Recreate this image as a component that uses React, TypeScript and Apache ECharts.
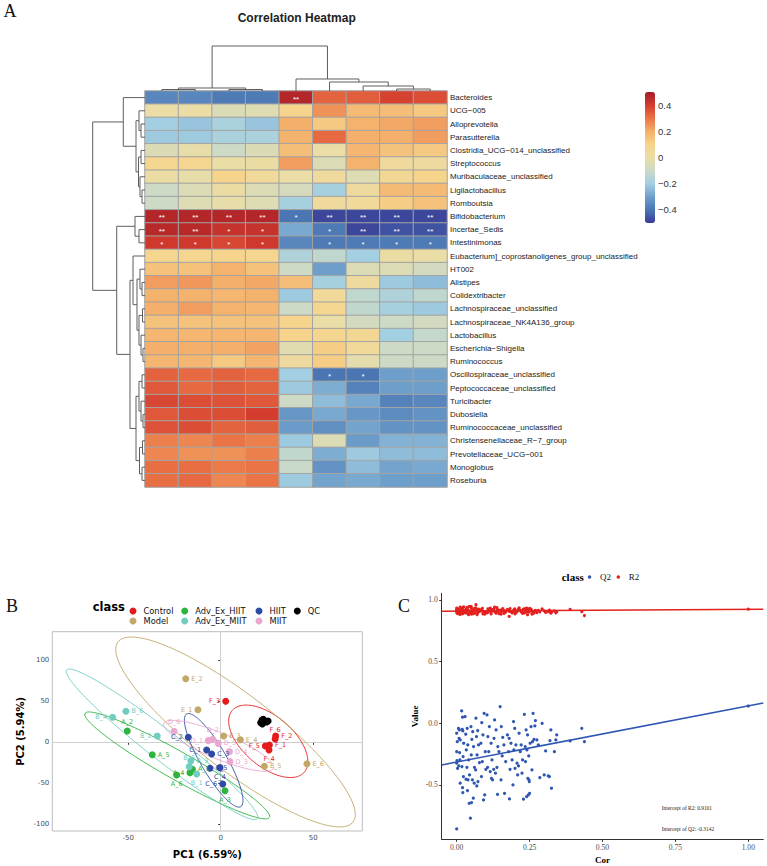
import React, { useEffect, useRef } from 'react';
import * as echarts from 'echarts';

// ---------------- Panel A: correlation heatmap ----------------
const colNames = ['V1', 'V2', 'V3', 'V4', 'V5', 'V6', 'V7', 'V8', 'V9'];
const rowNames = [
  'Bacteroides', 'UCG\u2212005', 'Alloprevotella', 'Parasutterella', 'Clostridia_UCG\u2212014_unclassified',
  'Streptococcus', 'Muribaculaceae_unclassified', 'Ligilactobacillus', 'Romboutsia', 'Bifidobacterium',
  'Incertae_Sedis', 'Intestinimonas', 'Eubacterium]_coprostanoligenes_group_unclassified', 'HT002', 'Alistipes',
  'Colidextribacter', 'Lachnospiraceae_unclassified', 'Lachnospiraceae_NK4A136_group', 'Lactobacillus', 'Escherichia\u2212Shigella',
  'Ruminococcus', 'Oscillospiraceae_unclassified', 'Peptococcaceae_unclassified', 'Turicibacter', 'Dubosiella',
  'Ruminococcaceae_unclassified', 'Christensenellaceae_R\u22127_group', 'Prevotellaceae_UCG\u2212001', 'Monoglobus', 'Roseburia',
];
const corValues = [
  [-0.36, -0.36, -0.39, -0.39, 0.47, 0.33, 0.34, 0.39, 0.37],
  [0.0, 0.0, -0.05, -0.04, 0.1, 0.25, 0.17, 0.16, 0.13],
  [-0.2, -0.22, -0.18, -0.22, 0.2, 0.13, 0.19, 0.21, 0.23],
  [-0.21, -0.21, -0.18, -0.18, 0.19, 0.32, 0.2, 0.2, 0.23],
  [-0.05, -0.01, -0.1, -0.05, 0.16, 0.0, 0.18, 0.15, 0.13],
  [0.08, 0.08, 0.0, 0.01, 0.23, -0.05, 0.19, 0.04, 0.03],
  [0.01, -0.01, 0.1, 0.05, 0.0, 0.04, -0.04, 0.07, 0.1],
  [-0.1, -0.05, 0.01, -0.05, -0.07, -0.19, 0.03, 0.17, 0.17],
  [-0.1, -0.04, -0.01, -0.04, -0.19, 0.04, 0.05, 0.12, 0.15],
  [0.47, 0.47, 0.47, 0.47, -0.4, -0.48, -0.48, -0.48, -0.48],
  [0.46, 0.46, 0.43, 0.43, -0.28, -0.39, -0.48, -0.46, -0.46],
  [0.41, 0.41, 0.38, 0.41, -0.36, -0.39, -0.39, -0.39, -0.39],
  [0.08, 0.08, 0.1, 0.08, -0.17, -0.13, -0.2, 0.01, 0.0],
  [0.15, 0.15, 0.19, 0.15, -0.1, -0.3, -0.05, -0.05, -0.08],
  [0.23, 0.24, 0.2, 0.21, 0.16, -0.19, 0.03, -0.21, -0.24],
  [0.19, 0.19, 0.18, 0.19, -0.21, 0.05, -0.13, -0.17, -0.13],
  [0.2, 0.23, 0.19, 0.18, -0.1, 0.08, -0.13, -0.19, -0.21],
  [0.15, 0.15, 0.15, 0.15, 0.1, 0.0, -0.08, -0.1, -0.08],
  [0.18, 0.18, 0.18, 0.18, 0.1, 0.08, 0.07, -0.2, -0.12],
  [0.2, 0.2, 0.2, 0.22, -0.03, 0.12, 0.05, -0.1, -0.1],
  [0.18, 0.18, 0.13, 0.18, 0.03, 0.12, -0.02, -0.1, -0.1],
  [0.33, 0.32, 0.33, 0.32, -0.2, -0.4, -0.4, -0.3, -0.3],
  [0.35, 0.32, 0.34, 0.33, -0.21, -0.27, -0.37, -0.3, -0.3],
  [0.38, 0.37, 0.36, 0.35, -0.1, -0.24, -0.28, -0.37, -0.36],
  [0.35, 0.37, 0.37, 0.4, -0.32, -0.28, -0.32, -0.35, -0.33],
  [0.36, 0.37, 0.33, 0.34, -0.31, -0.34, -0.29, -0.33, -0.33],
  [0.28, 0.27, 0.3, 0.28, -0.21, -0.05, -0.31, -0.26, -0.26],
  [0.27, 0.25, 0.25, 0.28, -0.13, -0.27, -0.21, -0.24, -0.24],
  [0.31, 0.31, 0.29, 0.3, -0.11, -0.33, -0.24, -0.29, -0.28],
  [0.31, 0.32, 0.27, 0.3, -0.21, -0.29, -0.28, -0.3, -0.3],
];
// [row, col, mark]
const sigCells = [
  [0, 4, '**'],
  [9, 0, '**'], [9, 1, '**'], [9, 2, '**'], [9, 3, '**'], [9, 4, '*'], [9, 5, '**'], [9, 6, '**'], [9, 7, '**'], [9, 8, '**'],
  [10, 0, '**'], [10, 1, '**'], [10, 2, '*'], [10, 3, '*'], [10, 5, '*'], [10, 6, '**'], [10, 7, '**'], [10, 8, '**'],
  [11, 0, '*'], [11, 1, '*'], [11, 2, '*'], [11, 3, '*'], [11, 5, '*'], [11, 6, '*'], [11, 7, '*'], [11, 8, '*'],
  [21, 5, '*'], [21, 6, '*'],
];
const colorTicks = [-0.4, -0.2, 0, 0.2, 0.4];
const heatPalette = ['#383B96', '#4A76B4', '#6E9FCB', '#A3CFE2', '#CCDAC6', '#EADDA6', '#F6D48C', '#F4AF6A', '#EA7446', '#D43C2E', '#A51C28'];

// dendrograms: [childA, childB, height]; negative = leaf -(index+1), positive = merge number (1-based)
const rowMerges = [
  [-3, -4, 0.076], [-2, 1, 0.115], [-5, -6, 0.076], [-8, -9, 0.057], [-7, 4, 0.096],
  [3, 5, 0.124], [2, 6, 0.172], [-1, 7, 0.415], [-11, -12, 0.115], [-10, 9, 0.191],
  [-15, -16, 0.057], [-14, 11, 0.096], [-17, -18, 0.048], [-20, -21, 0.038], [-19, 14, 0.076],
  [13, 15, 0.115], [12, 16, 0.153], [-13, 17, 0.229], [-22, -23, 0.057], [-25, -26, 0.038],
  [-24, 20, 0.076], [19, 21, 0.115], [-27, -28, 0.048], [-29, -30, 0.057], [23, 24, 0.105],
  [22, 25, 0.172], [18, 26, 0.287], [10, 27, 0.541], [8, 28, 1.0],
];
const colMerges = [
  [-1, -2, 0.033], [-3, -4, 0.033], [1, 2, 0.067], [-8, -9, 0.044],
  [-7, 4, 0.111], [-6, 5, 0.2], [-5, 6, 0.267], [3, 7, 1.0],
];

// ---------------- Panel B: PCA ----------------
const pcaClasses = ['Control', 'Model', 'Adv_Ex_HIIT', 'Adv_Ex_MIIT', 'HIIT', 'MIIT', 'QC'];
const pcaColors = ['#E41A1C', '#C2A868', '#2DB43C', '#72CDBF', '#3049A3', '#EBA7D0', '#000000'];
const pcaControl = [[2.7, 50.0, 'F_3'], [29.7, 7.7, 'F_2'], [29.4, 4.0, 'F_6'], [26.3, -3.3, 'F_1'], [24.1, -4.5, 'F_5'], [26.1, -9.4, 'F_4']];
const pcaModel = [[-18.9, 77.6, 'E_2'], [-12.3, 39.8, 'E_1'], [1.6, 7.7, 'E_3'], [10.6, 3.2, 'E_4'], [23.6, -29.3, 'E_5'], [46.6, -26.1, 'E_6']];
const pcaAdvHIIT = [[-50.5, 13.8, 'A_2'], [-37.0, -15.1, 'A_5'], [-23.8, -39.9, 'A_6'], [-16.6, -37.0, 'A_4'], [-15.3, -33.0, 'A_1'], [2.3, -59.0, 'A_3']];
const pcaAdvMIIT = [[-58.4, 30.5, 'B_4'], [-51.2, 37.8, 'B_6'], [-34.3, 7.7, 'B_2'], [-16.1, -22.4, 'B_3'], [-17.0, -29.7, 'B_5'], [-13.0, -38.7, 'B_1']];
const pcaHIIT = [[-17.5, 6.1, 'C_2'], [-7.6, -9.4, 'C_1'], [-4.9, -14.3, 'C_3'], [-5.8, -31.7, 'C_5'], [-0.4, -30.9, 'C_4'], [1.1, -50.9, 'C_6']];
const pcaMIIT = [[-25.2, 13.4, 'D_6'], [-6.7, 2.0, 'D_1'], [-4.3, 3.6, 'D_2'], [-1.3, -1.3, 'D_5'], [4.7, -11.4, 'D_4'], [5.0, -23.6, 'D_3']];
const pcaQC = [[21.6, 23.9, ''], [22.3, 27.2, ''], [23.0, 28.0, ''], [22.5, 22.3, ''], [25.6, 26.0, ''], [24.8, 24.8, '']];
const pcaData = [pcaControl, pcaModel, pcaAdvHIIT, pcaAdvMIIT, pcaHIIT, pcaMIIT, pcaQC];
// ellipse: [cx, cy, ax, ay, bx, by] (centre and two conjugate semi-axes, data units)
const ellControl = [25.7, 1.2, 19.5, -37.6, 8.8, 23.2];
const ellModel = [8.0, 12.6, 63.5, -109.8, 12.5, 36.8];
const ellAdvHIIT = [-23.5, -28.2, 49.8, -63.5, 3.7, 14.9];
const ellAdvMIIT = [-31.7, -2.5, 51.5, -90.7, 5.0, 14.4];
const ellHIIT = [-3.8, -22.0, 14.6, -56.5, 6.1, 8.0];
const ellMIIT = [-1.1, -4.3, 29.6, -27.4, 2.7, 14.6];
const pcaEllipses = [ellControl, ellModel, ellAdvHIIT, ellAdvMIIT, ellHIIT, ellMIIT];
const pcaXTicks = [-50, 0, 50];
const pcaYTicks = [-100, -50, 0, 50, 100];
const labelSide: Record<string, string> = {
  F_3: 'left', F_2: 'right', F_6: 'top', F_1: 'right', F_5: 'left', F_4: 'bottom',
  E_2: 'right', E_1: 'left', E_3: 'right', E_4: 'right', E_5: 'right', E_6: 'right',
  A_2: 'top', A_5: 'right', A_6: 'bottom', A_4: 'left', A_1: 'right', A_3: 'bottom',
  B_4: 'left', B_6: 'right', B_2: 'left', B_3: 'right', B_5: 'top', B_1: 'bottom',
  C_2: 'left', C_1: 'left', C_3: 'right', C_5: 'right', C_4: 'bottom', C_6: 'left',
  D_6: 'top', D_1: 'left', D_2: 'top', D_5: 'right', D_4: 'right', D_3: 'right',
};

// ---------------- Panel C: permutation test ----------------
const permCor = [
  0, 0.002, 0, 0.001, 0, 0.003, 0,
  0.006, 0.009, 0.008, 0.012, 0.01, 0.011, 0.007, 0.012,
  0.017, 0.02, 0.019, 0.021, 0.024, 0.022, 0.018, 0.023, 0.02, 0.021,
  0.029, 0.036, 0.031, 0.038, 0.033, 0.041, 0.035, 0.044, 0.032, 0.039, 0.037, 0.043, 0.047,
  0.049, 0.055, 0.052, 0.058, 0.05, 0.061, 0.054, 0.06, 0.057, 0.051,
  0.066, 0.072, 0.068, 0.075, 0.07, 0.078, 0.065, 0.073, 0.069,
  0.094, 0.086, 0.09, 0.083, 0.098, 0.088, 0.1, 0.085, 0.096, 0.092,
  0.104, 0.112, 0.107, 0.118, 0.11, 0.121, 0.106, 0.115, 0.119, 0.123,
  0.149, 0.13, 0.135, 0.128, 0.141, 0.145, 0.138, 0.127, 0.133, 0.14,
  0.153, 0.158, 0.162, 0.156, 0.168, 0.152, 0.164,
  0.174, 0.18, 0.186, 0.178, 0.19, 0.183, 0.181,
  0.195, 0.199, 0.203, 0.196, 0.207, 0.2, 0.209, 0.193,
  0.214, 0.221, 0.218, 0.226, 0.212, 0.224, 0.229,
  0.232, 0.238, 0.243, 0.235, 0.241, 0.247, 0.236, 0.244, 0.248, 0.24,
  0.262, 0.27, 0.255, 0.265, 0.26, 0.252, 0.258, 0.249, 0.25, 0.246,
  0.268, 0.275, 0.28,
  0.293, 0.285,
  0.305, 0.3, 0.314,
  0.323, 0.32, 0.318, 0.325,
  0.343, 0.34, 0.335,
  0.389, 0.429, 0.438, 1.0,
];
const permQ2 = [
  -0.081, -0.149, -0.23, -0.303, -0.324, -0.365, -0.857,
  -0.041, -0.054, -0.122, -0.135, -0.238, -0.297, -0.346, -0.486,
  0.1, 0.049, -0.049, -0.062, -0.162, -0.27, -0.351, -0.432, -0.522, -0.562,
  0.054, -0.041, -0.089, -0.176, -0.216, -0.297, -0.357, -0.419, -0.454, -0.459, -0.546, -0.649, -0.77,
  -0.027, -0.068, -0.13, -0.189, -0.257, -0.357, -0.459, -0.486, -0.608, -0.643,
  0.041, -0.059, -0.108, -0.176, -0.257, -0.319, -0.378, -0.473, -0.508,
  0.081, 0.005, -0.095, -0.162, -0.23, -0.311, -0.373, -0.432, -0.581, -0.622,
  0.068, -0.027, -0.108, -0.162, -0.23, -0.297, -0.357, -0.392, -0.446, -0.459,
  0.135, 0.027, -0.054, -0.122, -0.189, -0.23, -0.357, -0.373, -0.405, -0.576,
  -0.027, -0.114, -0.176, -0.265, -0.311, -0.459, -0.568,
  -0.095, -0.122, -0.162, -0.23, -0.297, -0.373, -0.614,
  0.014, -0.041, -0.176, -0.216, -0.324, -0.365, -0.419, -0.5,
  -0.081, -0.176, -0.23, -0.297, -0.346, -0.405, -0.616,
  0.073, -0.054, -0.095, -0.189, -0.216, -0.265, -0.311, -0.446, -0.459, -0.595,
  0.081, 0.022, -0.027, -0.13, -0.149, -0.162, -0.378, -0.473, -0.568, -0.581,
  -0.022, -0.135, -0.176,
  0.0, -0.441,
  -0.224, -0.419, -0.427,
  -0.054, -0.141, -0.432, -0.527,
  -0.095, -0.135, -0.23,
  -0.143, -0.041, -0.149, 0.14,
];
const permR2 = [
  0.905, 0.912, 0.921, 0.893, 0.934, 0.898, 0.915,
  0.889, 0.927, 0.902, 0.941, 0.914, 0.884, 0.922, 0.897,
  0.931, 0.908, 0.887, 0.918, 0.944, 0.901, 0.925, 0.893, 0.912, 0.936,
  0.916, 0.94, 0.895, 0.909, 0.928, 0.882, 0.919, 0.947, 0.903, 0.887, 0.924, 0.911, 0.898,
  0.938, 0.906, 0.921, 0.889, 0.945, 0.913, 0.897, 0.93, 0.904, 0.885,
  0.962, 0.917, 0.893, 0.926, 0.881, 0.908, 0.935, 0.899, 0.914,
  0.903, 0.924, 0.888, 0.911, 0.897, 0.932, 0.906, 0.919, 0.886, 0.901,
  0.895, 0.913, 0.928, 0.887, 0.908, 0.921, 0.899, 0.934, 0.905, 0.917,
  0.918, 0.941, 0.894, 0.926, 0.905, 0.889, 0.937, 0.912, 0.899, 0.922,
  0.904, 0.929, 0.891, 0.916, 0.902, 0.885, 0.913,
  0.923, 0.866, 0.905, 0.914, 0.896, 0.93, 0.908,
  0.911, 0.927, 0.898, 0.919, 0.906, 0.888, 0.915, 0.901,
  0.936, 0.903, 0.917, 0.892, 0.924, 0.909, 0.926,
  0.895, 0.918, 0.88, 0.929, 0.907, 0.914, 0.899, 0.921, 0.903, 0.933,
  0.902, 0.916, 0.925, 0.894, 0.908, 0.912, 0.886, 0.92, 0.931, 0.905,
  0.909, 0.897, 0.915,
  0.928, 0.904,
  0.899, 0.912, 0.906,
  0.893, 0.907, 0.918, 0.901,
  0.905, 0.896, 0.911,
  0.924, 0.905, 0.873, 0.925,
];
const r2Intercept = 0.9101;
const q2Intercept = -0.3142;
const r2Slope = 0.0145;
const q2Slope = 0.455;
const permXTicks = [0, 0.25, 0.5, 0.75, 1.0];
const permYTicks = [-0.5, 0, 0.5, 1.0];

// ---------------- helpers ----------------
function dendroSegments(merges: number[][]) {
  const pos: number[] = [];
  const hgt: number[] = [];
  const segs: number[][] = [];
  const get = (id: number) => (id < 0 ? [-id - 1 + 0.5, 0] : [pos[id - 1], hgt[id - 1]]);
  merges.forEach(([a, b, h], k) => {
    const [pa, ha] = get(a);
    const [pb, hb] = get(b);
    pos[k] = (pa + pb) / 2;
    hgt[k] = h;
    segs.push([pa, ha, pb, hb, h]);
  });
  return segs;
}

function ellipsePoints(p: number[]) {
  const [cx, cy, ax, ay, bx, by] = p;
  const pts: number[][] = [];
  for (let i = 0; i <= 160; i++) {
    const t = (i / 160) * Math.PI * 2;
    pts.push([cx + ax * Math.cos(t) + bx * Math.sin(t), cy + ay * Math.cos(t) + by * Math.sin(t)]);
  }
  return pts;
}

const SANS = 'Liberation Sans';
const DEJ = 'DejaVu Sans';
const SERIF = 'Liberation Serif';

function buildOption() {
  const sigMap: Record<string, string> = {};
  sigCells.forEach(([r, c, m]) => { sigMap[`${r}-${c}`] = m as string; });
  const heatData: any[] = [];
  corValues.forEach((row, r) => row.forEach((v, c) => heatData.push([c, r, v])));

  const rowSegs = dendroSegments(rowMerges);
  const colSegs = dendroSegments(colMerges);

  const pcaX = { min: -91, max: 76.5 };
  const pcaY = { min: -108.2, max: 134.9 };
  const permX = { min: -0.0514, max: 1.0514 };
  const permY = { min: -0.941, max: 1.054 };

  const hiddenAxis = (gi: number, extra: any = {}) => ({
    gridIndex: gi, show: false, ...extra,
  });

  const series: any[] = [];

  series.push({
    type: 'heatmap', xAxisIndex: 0, yAxisIndex: 0, data: heatData,
    itemStyle: { borderColor: '#A3A3A3', borderWidth: 1 },
    label: {
      show: true, color: '#ffffff', fontSize: 8, fontFamily: SANS, offset: [0, 1.5],
      formatter: (p: any) => sigMap[`${p.data[1]}-${p.data[0]}`] || '',
    },
    emphasis: { disabled: true }, silent: true,
  });

  series.push({
    type: 'custom', xAxisIndex: 1, yAxisIndex: 1, data: colSegs, silent: true, clip: false,
    renderItem: (params: any, api: any) => {
      const pa = api.value(0), ha = api.value(1), pb = api.value(2), hb = api.value(3), h = api.value(4);
      const pts = [api.coord([pa, ha]), api.coord([pa, h]), api.coord([pb, h]), api.coord([pb, hb])];
      return { type: 'polyline', shape: { points: pts }, style: { stroke: '#5E5E5E', lineWidth: 1, fill: null } };
    },
  });

  series.push({
    type: 'custom', xAxisIndex: 2, yAxisIndex: 2, data: rowSegs, silent: true, clip: false,
    renderItem: (params: any, api: any) => {
      const pa = api.value(0), ha = api.value(1), pb = api.value(2), hb = api.value(3), h = api.value(4);
      const pts = [api.coord([ha, pa]), api.coord([h, pa]), api.coord([h, pb]), api.coord([hb, pb])];
      return { type: 'polyline', shape: { points: pts }, style: { stroke: '#5E5E5E', lineWidth: 1, fill: null } };
    },
  });

  // PCA ellipses
  pcaEllipses.forEach((e, i) => {
    series.push({
      type: 'line', name: pcaClasses[i] + ' ellipse', xAxisIndex: 4, yAxisIndex: 4,
      data: ellipsePoints(e), showSymbol: false, symbol: 'none', smooth: false, silent: true,
      lineStyle: { color: pcaColors[i], width: 0.9 }, z: 3,
      ...(i === 0 ? {
        markLine: {
          silent: true, symbol: ['none', 'none'], label: { show: false },
          lineStyle: { color: '#D0D0D0', width: 1, type: 'solid' },
          data: [{ xAxis: 0 }, { yAxis: 0 }], z: 1,
        },
      } : {}),
    });
  });

  // PCA points
  pcaData.forEach((pts, i) => {
    series.push({
      type: 'scatter', name: pcaClasses[i], xAxisIndex: 4, yAxisIndex: 4,
      data: pts.map((p) => ({
        value: [p[0], p[1]], name: p[2],
        label: { position: labelSide[p[2] as string] || 'right' },
      })),
      symbolSize: 7, itemStyle: { color: pcaColors[i], opacity: 1 }, z: 5,
      label: {
        show: true, formatter: (p: any) => p.name, color: pcaColors[i], fontSize: 6.5,
        fontFamily: DEJ, distance: 2,
      },
      silent: true,
    });
  });

  // permutation lines & points
  series.push({
    type: 'scatter', name: 'R2', xAxisIndex: 5, yAxisIndex: 5,
    data: permCor.map((c, i) => [c, permR2[i]]), symbolSize: 3.2,
    itemStyle: { color: '#E3211F', opacity: 1 }, silent: true, z: 3,
  });
  series.push({
    type: 'scatter', name: 'Q2', xAxisIndex: 5, yAxisIndex: 5,
    data: permCor.map((c, i) => [c, permQ2[i]]), symbolSize: 3.2,
    itemStyle: { color: '#2F56B0', opacity: 1 }, silent: true, z: 3,
  });
  series.push({
    type: 'line', name: 'R2 fit', xAxisIndex: 5, yAxisIndex: 5,
    data: [[permX.min, r2Intercept + r2Slope * permX.min], [permX.max, r2Intercept + r2Slope * permX.max]],
    showSymbol: false, symbol: 'none', lineStyle: { color: '#E3211F', width: 1.5 }, silent: true, z: 4,
  });
  series.push({
    type: 'line', name: 'Q2 fit', xAxisIndex: 5, yAxisIndex: 5,
    data: [[permX.min, q2Intercept + q2Slope * permX.min], [permX.max, q2Intercept + q2Slope * permX.max]],
    showSymbol: false, symbol: 'none', lineStyle: { color: '#2F56B0', width: 1.5 }, silent: true, z: 4,
  });

  const pcaLegend = (left: number, names: string[]) => ({
    show: true, orient: 'vertical', left, top: 606, padding: 0, itemGap: 0,
    itemWidth: 11, itemHeight: 7, icon: 'circle', selectedMode: false, data: names,
    textStyle: { fontFamily: DEJ, fontSize: 8.3, color: '#111', lineHeight: 10, padding: [0, 0, 0, 0] },
  });

  return {
    animation: false,
    backgroundColor: '#ffffff',
    textStyle: { fontFamily: SANS },
    grid: [
      { left: 145, top: 91, width: 302, height: 396, containLabel: false },
      { left: 145, top: 46, width: 302, height: 45 },
      { left: 92.7, top: 91, width: 52.3, height: 396 },
      { left: 645, top: 92, width: 10, height: 131 },
      { left: 52.3, top: 631.7, width: 310, height: 199.3, show: true, borderColor: '#BDBDBD', borderWidth: 1 },
      { left: 441.7, top: 593.3, width: 321.6, height: 246 },
    ],
    xAxis: [
      { type: 'category', gridIndex: 0, data: colNames, show: false },
      hiddenAxis(1, { type: 'value', min: 0, max: 9 }),
      hiddenAxis(2, { type: 'value', min: 0, max: 1, inverse: true }),
      hiddenAxis(3, { type: 'value', min: 0, max: 1 }),
      {
        type: 'value', gridIndex: 4, min: pcaX.min, max: pcaX.max,
        axisLine: { show: false }, splitLine: { show: false },
        axisTick: { show: true, length: 2.5, lineStyle: { color: '#333' }, customValues: pcaXTicks },
        axisLabel: { customValues: pcaXTicks, fontSize: 7, color: '#4D4D4D', margin: 3, fontFamily: DEJ, formatter: (v: number) => String(v) },
        name: 'PC1 (6.59%)', nameLocation: 'middle', nameGap: 18,
        nameTextStyle: { fontFamily: DEJ, fontWeight: 'bold', fontSize: 10, color: '#000' },
      },
      {
        type: 'value', gridIndex: 5, min: permX.min, max: permX.max,
        axisLine: { show: true, onZero: false, lineStyle: { color: '#333', width: 1 } }, splitLine: { show: false },
        axisTick: { show: true, length: 2.5, lineStyle: { color: '#333' }, customValues: permXTicks },
        axisLabel: { customValues: permXTicks, fontSize: 7.6, color: '#4D4D4D', margin: 4, fontFamily: SERIF, formatter: (v: number) => v.toFixed(2) },
        name: 'Cor', nameLocation: 'middle', nameGap: 16,
        nameTextStyle: { fontFamily: SERIF, fontWeight: 'bold', fontSize: 9, color: '#000' },
      },
    ],
    yAxis: [
      {
        type: 'category', gridIndex: 0, data: rowNames, inverse: true, position: 'right',
        axisLine: { show: false }, axisTick: { show: false },
        axisLabel: { interval: 0, fontSize: 8, color: '#222', margin: 3, fontFamily: SANS },
      },
      hiddenAxis(1, { type: 'value', min: 0, max: 1 }),
      hiddenAxis(2, { type: 'value', min: 0, max: 30, inverse: true }),
      {
        type: 'value', gridIndex: 3, min: -0.5, max: 0.5, position: 'right',
        axisLine: { show: false }, axisTick: { show: false }, splitLine: { show: false },
        axisLabel: {
          customValues: colorTicks, fontSize: 9.5, color: '#333', margin: 3, fontFamily: SANS,
          formatter: (v: number) => (v === 0 ? '0' : v < 0 ? '\u2212' + Math.abs(v) : String(v)),
        },
      },
      {
        type: 'value', gridIndex: 4, min: pcaY.min, max: pcaY.max,
        axisLine: { show: false }, splitLine: { show: false },
        axisTick: { show: true, length: 2.5, lineStyle: { color: '#333' }, customValues: pcaYTicks },
        axisLabel: { customValues: pcaYTicks, fontSize: 7, color: '#4D4D4D', margin: 3, fontFamily: DEJ, formatter: (v: number) => String(v) },
        name: 'PC2 (5.94%)', nameLocation: 'middle', nameGap: 27, nameRotate: 90,
        nameTextStyle: { fontFamily: DEJ, fontWeight: 'bold', fontSize: 10, color: '#000' },
      },
      {
        type: 'value', gridIndex: 5, min: permY.min, max: permY.max,
        axisLine: { show: true, onZero: false, lineStyle: { color: '#333', width: 1 } }, splitLine: { show: false },
        axisTick: { show: true, length: 2.5, lineStyle: { color: '#333' }, customValues: permYTicks },
        axisLabel: { customValues: permYTicks, fontSize: 7.6, color: '#4D4D4D', margin: 4, fontFamily: SERIF, formatter: (v: number) => v.toFixed(1) },
        name: 'Value', nameLocation: 'middle', nameGap: 22, nameRotate: 90,
        nameTextStyle: { fontFamily: SERIF, fontWeight: 'bold', fontSize: 9, color: '#000' },
      },
    ],
    visualMap: {
      type: 'continuous', min: -0.5, max: 0.5, seriesIndex: 0, dimension: 2,
      inRange: { color: heatPalette }, show: true, calculable: false, orient: 'vertical',
      left: 645, top: 92, itemWidth: 10, itemHeight: 131, padding: 0, text: null, showLabel: false,
      hoverLink: false,
    },
    legend: [
      pcaLegend(129.5, ['Control', 'Model']),
      pcaLegend(181.2, ['Adv_Ex_HIIT', 'Adv_Ex_MIIT']),
      pcaLegend(255.5, ['HIIT', 'MIIT']),
      pcaLegend(293.8, ['QC']),
      {
        show: true, orient: 'horizontal', left: 587.8, top: 572, padding: 0, itemGap: 5.5,
        itemWidth: 11, itemHeight: 3.5, icon: 'circle', selectedMode: false, data: ['Q2', 'R2'],
        textStyle: { fontFamily: SERIF, fontSize: 9, color: '#111', lineHeight: 10 },
      },
    ],
    graphic: [
      { type: 'text', x: 10, y: 11, style: { text: 'A', fontFamily: SERIF, fontSize: 18, fill: '#111', align: 'center', verticalAlign: 'middle' } },
      { type: 'text', x: 296.7, y: 18, style: { text: 'Correlation Heatmap', fontFamily: SANS, fontWeight: 'bold', fontSize: 12, fill: '#222', align: 'center', verticalAlign: 'middle' } },
      { type: 'text', x: 12, y: 606, style: { text: 'B', fontFamily: SERIF, fontSize: 18, fill: '#111', align: 'center', verticalAlign: 'middle' } },
      { type: 'text', x: 404, y: 606, style: { text: 'C', fontFamily: SERIF, fontSize: 18, fill: '#111', align: 'center', verticalAlign: 'middle' } },
      { type: 'text', x: 92.7, y: 606.5, style: { text: 'class', fontFamily: DEJ, fontWeight: 'bold', fontSize: 11.5, fill: '#000', align: 'left', verticalAlign: 'middle' } },
      { type: 'text', x: 561.7, y: 576.5, style: { text: 'class', fontFamily: SERIF, fontWeight: 'bold', fontSize: 11, fill: '#000', align: 'left', verticalAlign: 'middle' } },
      { type: 'text', x: 661.7, y: 807.7, style: { text: `Intercept of R2: ${r2Intercept}`, fontFamily: SERIF, fontSize: 5.4, fill: '#222', align: 'left', verticalAlign: 'middle' } },
      { type: 'text', x: 661.7, y: 829.3, style: { text: `Intercept of Q2: ${q2Intercept}`, fontFamily: SERIF, fontSize: 5.4, fill: '#222', align: 'left', verticalAlign: 'middle' } },
    ],
    series,
  };
}

export default function App() {
  const ref = useRef<HTMLDivElement>(null);
  useEffect(() => {
    if (!ref.current) return;
    const chart = echarts.init(ref.current, null, { renderer: 'svg' });
    chart.setOption(buildOption() as any);
    return () => chart.dispose();
  }, []);
  return (
    <div
      ref={ref}
      style={{ position: 'absolute', left: 0, top: 0, width: 767, height: 866, background: '#ffffff' }}
    />
  );
}
